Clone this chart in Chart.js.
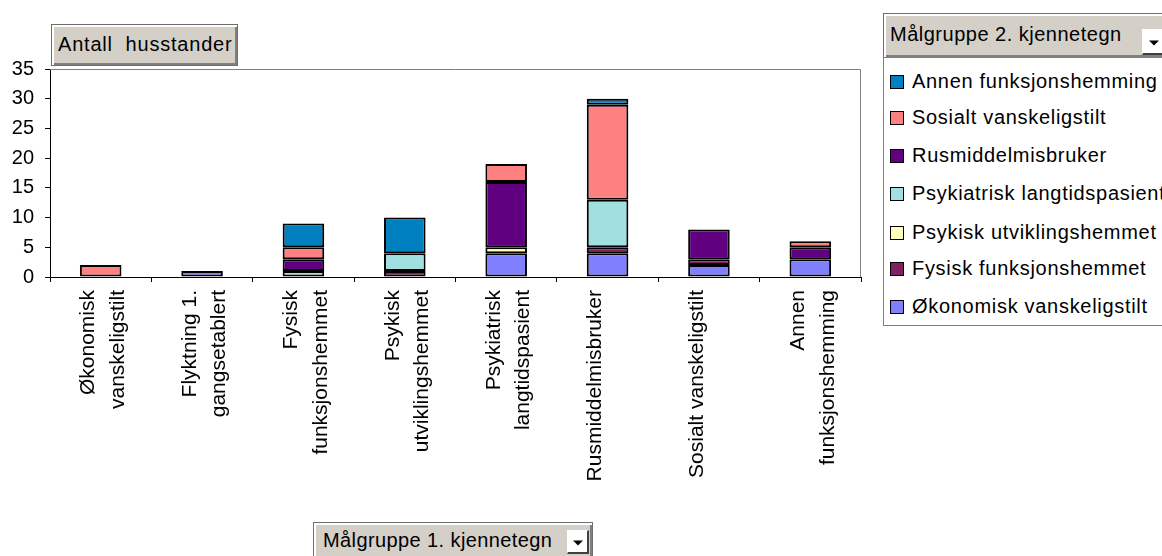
<!DOCTYPE html>
<html>
<head>
<meta charset="utf-8">
<script src="https://cdn.jsdelivr.net/npm/chart.js@4/dist/chart.umd.min.js"></script>
<style>
  html, body { margin: 0; padding: 0; background: #fff; }
  body { width: 1162px; height: 556px; position: relative; overflow: hidden;
         font-family: "Liberation Sans", Arial, sans-serif; }
  #wrap { position: absolute; left: 0; top: 0; width: 1162px; height: 556px; }
  .field {
    position: absolute; background: #d4d0c8; box-sizing: border-box;
    border: 1px solid #6e6e6e;
    box-shadow: inset 2px 2px 0 #ffffff, inset -2px -2px 0 #808080;
    font-size: 20px; color: #000; white-space: nowrap; overflow: hidden;
  }
  .field span { position: absolute; }
  .drop {
    position: absolute; background: #fff; box-sizing: border-box;
    border-left: 1px solid #fff; border-top: 1px solid #fff;
    border-right: 2px solid #404040; border-bottom: 2px solid #404040;
  }
  .drop::after {
    content: ""; position: absolute; left: 50%; top: 55%;
    transform: translate(-50%, -50%);
    border-left: 5px solid transparent; border-right: 5px solid transparent;
    border-top: 5px solid #000;
  }
  #legend {
    position: absolute; left: 883px; top: 57px; width: 300px; height: 269px;
    box-sizing: border-box; border: 1px solid #808080; background: #fff;
  }
  .item { position: absolute; left: 6px; font-size: 20px; letter-spacing: 0.7px; white-space: nowrap; }
  .sw { position: absolute; left: 0; width: 12px; height: 12px; border: 1.5px solid #000; }
  .item span { position: absolute; left: 22px; }
</style>
</head>
<body>
<div id="wrap"><canvas id="c" width="1162" height="556"></canvas></div>

<div class="field" style="left:51px;top:24px;width:187px;height:42px;"><span style="left:6px;top:8px;letter-spacing:0.8px;">Antall&nbsp; husstander</span></div>
<div class="field" style="left:883px;top:13px;width:290px;height:45px;"><span style="left:6px;top:9px;letter-spacing:0.5px;">Målgruppe 2. kjennetegn</span><div class="drop" style="left:258px;top:15px;width:24px;height:26px;"></div></div>
<div id="legend"></div>
<div class="field" style="left:313px;top:522px;width:280px;height:40px;"><span style="left:9px;top:6px;letter-spacing:0.4px;">Målgruppe 1. kjennetegn</span><div class="drop" style="left:253px;top:7px;width:22px;height:24px;"></div></div>

<script>
// Categories on the x axis (Målgruppe 1. kjennetegn)
const categories = [
  ["Økonomisk", "vanskeligstilt"],
  ["Flyktning 1.", "gangsetablert"],
  ["Fysisk", "funksjonshemmet"],
  ["Psykisk", "utviklingshemmet"],
  ["Psykiatrisk", "langtidspasient"],
  ["Rusmiddelmisbruker"],
  ["Sosialt vanskeligstilt"],
  ["Annen", "funksjonshemming"]
];

// Number of households per secondary group (Målgruppe 2. kjennetegn), stacked bottom to top
const okonomisk   = [0, 1, 0, 0, 4, 4, 2, 3];
const fysisk      = [0, 0, 0, 1, 0, 1, 1, 0];
const psykiskUtv  = [0, 0, 0, 0, 1, 0, 0, 0];
const psykiatrisk = [0, 0, 1, 3, 0, 8, 0, 0];
const rus         = [0, 0, 2, 0, 11, 0, 5, 2];
const sosialt     = [2, 0, 2, 0, 3, 16, 0, 1];
const annen       = [0, 0, 4, 6, 0, 1, 0, 0];

const seriesNames = [
  "Økonomisk vanskeligstilt",
  "Fysisk funksjonshemmet",
  "Psykisk utviklingshemmet",
  "Psykiatrisk langtidspasient",
  "Rusmiddelmisbruker",
  "Sosialt vanskeligstilt",
  "Annen funksjonshemming"
];
const seriesValues = [okonomisk, fysisk, psykiskUtv, psykiatrisk, rus, sosialt, annen];
const seriesColors = ["#8080ff", "#802060", "#ffffc0", "#a0e0e0", "#600080", "#ff8080", "#0080c0"];

const yTicks = [0, 5, 10, 15, 20, 25, 30, 35];

const FONT = { family: "'Liberation Sans', Arial, sans-serif", size: 20 };

const datasets = seriesNames.map((name, i) => ({
  label: name,
  data: seriesValues[i].map(v => (v === 0 ? null : v)),
  backgroundColor: seriesColors[i],
  borderColor: "#000",
  borderWidth: 2,
  borderSkipped: false,
  barPercentage: 0.41,
  categoryPercentage: 1.0
}));

// Gray frame on the top and right of the plot area
const frame = {
  id: "frame",
  beforeDatasetsDraw(chart) {
    const { ctx, chartArea: a } = chart;
    ctx.save();
    ctx.strokeStyle = "#808080";
    ctx.lineWidth = 1;
    ctx.beginPath();
    ctx.moveTo(a.left, a.top + 0.5);
    ctx.lineTo(a.right - 0.5, a.top + 0.5);
    ctx.lineTo(a.right - 0.5, a.bottom);
    ctx.stroke();
    ctx.restore();
  }
};

new Chart(document.getElementById("c"), {
  type: "bar",
  data: { labels: categories, datasets },
  options: {
    responsive: false,
    animation: false,
    layout: { padding: { left: 0, top: 69, right: 301, bottom: 0 } },
    plugins: { legend: { display: false }, tooltip: { enabled: false } },
    scales: {
      x: {
        stacked: true,
        afterFit(s) { s.height = 279; },
        border: { display: true, color: "#000", width: 1 },
        grid: { display: true, drawOnChartArea: false, drawTicks: true, tickLength: 5, color: "#000", offset: true },
        ticks: {
          color: "#000", font: { ...FONT, size: 21, lineHeight: 1.4 },
          minRotation: 90, maxRotation: 90, autoSkip: false, padding: 8, labelOffset: -12
        }
      },
      y: {
        stacked: true,
        min: 0, max: 35,
        afterFit(s) { s.width = 50; },
        afterBuildTicks(s) { s.ticks = yTicks.map(v => ({ value: v })); },
        border: { display: true, color: "#000", width: 1 },
        grid: { display: true, drawOnChartArea: false, drawTicks: true, tickLength: 5, color: "#000" },
        ticks: { color: "#000", font: FONT, padding: 11 }
      }
    }
  },
  plugins: [frame]
});

// Legend listing the series top-down, matching the stack order
const legend = document.getElementById("legend");
const tops = [12, 48, 86, 124, 163, 199, 237];
for (let k = 0; k < seriesNames.length; k++) {
  const i = seriesNames.length - 1 - k;
  const row = document.createElement("div");
  row.className = "item";
  row.style.top = tops[k] + "px";
  row.innerHTML = '<div class="sw" style="top:5px;background:' + seriesColors[i] + '"></div><span>' + seriesNames[i] + '</span>';
  legend.appendChild(row);
}
</script>
</body>
</html>
